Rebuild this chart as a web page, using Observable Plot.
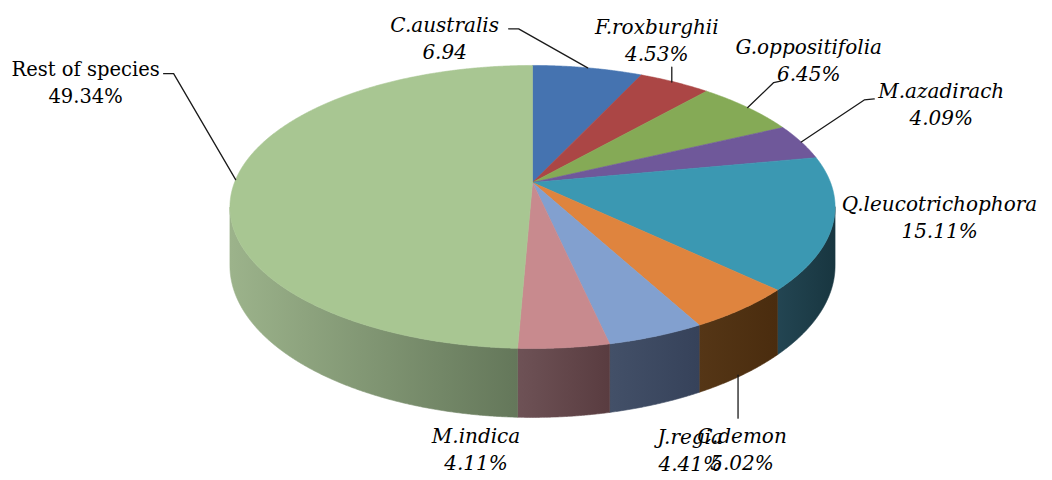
<!DOCTYPE html>
<html>
<head>
<meta charset="utf-8">
<script src="https://cdn.jsdelivr.net/npm/d3@7"></script>
<script src="https://cdn.jsdelivr.net/npm/@observablehq/plot@0.6"></script>
<style>
  html, body { margin: 0; padding: 0; background: #ffffff; }
  #chart svg { display: block; }
</style>
</head>
<body>
<div id="chart"></div>
<script>
// ---- data ----
const names = ["C.australis", "F.roxburghii", "G.oppositifolia", "M.azadirach", "Q.leucotrichophora", "C.demon", "J.regia", "M.indica", "Rest of species"];
const values = [6.94, 4.53, 6.45, 4.09, 15.11, 5.02, 4.41, 4.11, 49.34];
const valueLabels = ["6.94", "4.53%", "6.45%", "4.09%", "15.11%", "5.02%", "4.41%", "4.11%", "49.34%"];

// ---- styles ----
const topColors = ["#4573b0", "#ab4645", "#85aa56", "#6f589a", "#3b98b2", "#df843e", "#82a0cf", "#c88a8e", "#a8c692"];
const sideLeft  = ["#2f4d77", "#733030", "#5a7339", "#4b3b68", "#234552", "#553616", "#435068", "#6e5256", "#9cb38b"];
const sideRight = ["#263f62", "#5e2727", "#4a5f2f", "#3e3056", "#183640", "#4a2c0e", "#36425a", "#593c40", "#64775a"];
const italicLabel = [true, true, true, true, true, true, true, true, false];

// ---- layout (label offsets relative to each slice's anchor point) ----
const labelLayout = [
  {anchor: "top",    dx: -143, dy: -36,  leader: [[0, 0], [-69, -39], [-79, -39]]},
  {anchor: "top",    dx: -18,  dy: -48.5, leader: [[-3, 0], [-3, -15]]},
  {anchor: "top",    dx: 61,   dy: -54,  leader: [[0, 0], [26, -25], [35, -27]]},
  {anchor: "top",    dx: 140,  dy: -43.5, leader: [[0, 0], [63, -42], [73, -43]]},
  {anchor: "top",    dx: 106.5, dy: -12.7, leader: null},
  {anchor: "bottom", dx: 0,    dy: 68,   leader: [[-4, 0], [-4, 43]]},
  {anchor: "bottom", dx: 34,   dy: 40,   leader: null},
  {anchor: "bottom", dx: -88,  dy: 26,   leader: null},
  {anchor: "top",    dx: -150, dy: -104, leader: [[0, 0], [-62, -106], [-72, -106]]}
];

const W = 1052, H = 480;
// projected disk: homography of unit circle
const geo = {cx: 532, cy: 182, a: 298, b: 105.8, k: -0.173, depth: 57};
const italicSize = 20, uprightSize = 19.5;
const lineGap = 27;

function proj(theta, bottom) {
  const c = Math.cos(theta), s = Math.sin(theta);
  const den = 1 + geo.k * s;
  return [geo.cx + geo.a * c / den, (geo.b * s + geo.cy + (bottom ? geo.depth : 0)) / den];
}

const arcs = d3.pie().sort(null).startAngle(0).endAngle(2 * Math.PI)(values);
const step = Math.PI / 720;
const wallMin = 10 * Math.PI / 180, wallMax = 170 * Math.PI / 180;

function arcPts(t0, t1, bottom) {
  const n = Math.max(2, Math.ceil((t1 - t0) / step));
  const pts = [];
  for (let j = 0; j <= n; j++) pts.push(proj(t0 + (t1 - t0) * j / n, bottom));
  return pts;
}

const marks = [];
const wallIds = [];
// walls
arcs.forEach((d, i) => {
  const t0 = d.startAngle - Math.PI / 2, t1 = d.endAngle - Math.PI / 2;
  const a0 = Math.max(t0, wallMin), a1 = Math.min(t1, wallMax);
  if (a1 <= a0) return;
  const topArc = arcPts(a0, a1, false);
  const botArc = arcPts(a0, a1, true).reverse();
  const poly = topArc.concat(botArc).map(([x, y]) => ({x, y}));
  poly.push(poly[0]);
  wallIds.push(i);
  marks.push(Plot.line(poly, {x: "x", y: "y", fill: `url(#wall${i})`, stroke: `url(#wall${i})`, strokeWidth: 0.6, curve: "linear"}));
});
// top faces
arcs.forEach((d, i) => {
  const t0 = d.startAngle - Math.PI / 2, t1 = d.endAngle - Math.PI / 2;
  const pts = [[geo.cx, geo.cy]].concat(arcPts(t0, t1, false));
  pts.push(pts[0]);
  marks.push(Plot.line(pts.map(([x, y]) => ({x, y})), {x: "x", y: "y", fill: topColors[i], stroke: topColors[i], strokeWidth: 0.6, curve: "linear"}));
});

// labels and leaders
const labelRows = [];
arcs.forEach((d, i) => {
  const mid = (d.startAngle + d.endAngle) / 2 - Math.PI / 2;
  const L = labelLayout[i];
  const [ax, ay] = proj(mid, L.anchor === "bottom");
  if (L.leader) {
    marks.push(Plot.line(L.leader.map(([ox, oy]) => ({x: ax + ox, y: ay + oy})), {x: "x", y: "y", stroke: "#1a1a1a", strokeWidth: 1.3, curve: "linear"}));
  }
  const base = ay + L.dy;
  const fs = italicLabel[i] ? italicSize : uprightSize;
  labelRows.push({x: ax + L.dx, y: base - 0.32 * fs, text: names[i], italic: italicLabel[i]});
  labelRows.push({x: ax + L.dx, y: base + lineGap - 0.32 * fs, text: valueLabels[i], italic: italicLabel[i]});
});
marks.push(Plot.text(labelRows.filter(r => r.italic), {x: "x", y: "y", text: "text", fontStyle: "italic", fontSize: italicSize, fontFamily: "DejaVu Serif", fill: "#000", textAnchor: "middle"}));
marks.push(Plot.text(labelRows.filter(r => !r.italic), {x: "x", y: "y", text: "text", fontSize: uprightSize, fontFamily: "DejaVu Serif", fill: "#000", textAnchor: "middle"}));

const svg = Plot.plot({
  width: W, height: H,
  margin: 0,
  x: {domain: [0, W], range: [0, W], axis: null},
  y: {domain: [0, H], range: [0, H], axis: null},
  style: {background: "#ffffff", fontFamily: "DejaVu Serif"},
  marks
});

// gradients for the side walls
const ns = "http://www.w3.org/2000/svg";
const defs = document.createElementNS(ns, "defs");
wallIds.forEach(i => {
  const g = document.createElementNS(ns, "linearGradient");
  g.setAttribute("id", `wall${i}`);
  g.setAttribute("x1", "0"); g.setAttribute("x2", "1"); g.setAttribute("y1", "0"); g.setAttribute("y2", "0");
  [[0, sideLeft[i]], [1, sideRight[i]]].forEach(([o, c]) => {
    const s = document.createElementNS(ns, "stop");
    s.setAttribute("offset", o); s.setAttribute("stop-color", c);
    g.appendChild(s);
  });
  defs.appendChild(g);
});
svg.insertBefore(defs, svg.firstChild);
document.getElementById("chart").appendChild(svg);
</script>
</body>
</html>
